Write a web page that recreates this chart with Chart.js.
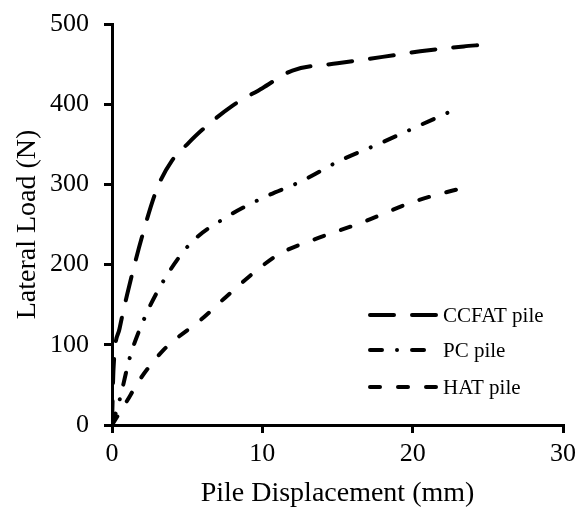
<!DOCTYPE html>
<html>
<head>
<meta charset="utf-8">
<script src="https://cdn.jsdelivr.net/npm/chart.js@4.4.1/dist/chart.umd.min.js"></script>
<style>
  html, body { margin: 0; padding: 0; background: #fff; }
  #wrap { width: 585px; height: 508px; position: relative; }
</style>
</head>
<body>
<div id="wrap"><canvas id="pileChart"></canvas></div>
<script>
'use strict';

/* ── DATA ──────────────────────────────────────────────────── */
const seriesNames = ['CCFAT pile', 'PC pile', 'HAT pile'];

const ccfatX = [0, 0.1, 0.5, 1, 2, 3, 4, 5, 6, 8, 10, 12, 15, 18, 20.5, 23.4, 24.6];
const ccfatY = [0, 70, 120, 162, 235, 295, 330, 350, 368, 398, 420, 442, 451, 459, 466, 472, 474];

const pcX = [0, 0.5, 1.2, 2.2, 3.5, 5.2, 7.5, 10, 12.6, 15.2, 17.8, 20.4, 23];
const pcY = [0, 31, 85, 135, 182, 226, 258, 283, 304, 330, 351, 373, 395];

const hatX = [0, 0.9, 1.9, 3.4, 4.3, 5.9, 7.6, 9.9, 11.2, 13.4, 16.7, 20, 24];
const hatY = [0, 27, 58, 93, 108, 131, 160, 197, 214, 231, 253, 278, 299];

const xTicks = [0, 10, 20, 30];
const yTicks = [0, 100, 200, 300, 400, 500];

const FONT = "'Liberation Serif', 'Times New Roman', serif";

const toPoints = (xs, ys) => xs.map((x, i) => ({ x, y: ys[i] }));

/* ── INSET LEGEND (lower right, inside plot) ──────────────── */
const insetLegend = {
  id: 'insetLegend',
  afterDraw(chart) {
    const ctx = chart.ctx;
    const x0 = 370, x1 = 437, textX = 443;
    const rows = [315, 350, 387];
    chart.data.datasets.forEach((ds, i) => {
      const y = rows[i];
      ctx.save();
      ctx.strokeStyle = '#000';
      ctx.lineWidth = ds.borderWidth;
      ctx.lineCap = ds.borderCapStyle;
      ctx.setLineDash(ds.borderDash);
      ctx.beginPath();
      ctx.moveTo(x0, y);
      ctx.lineTo(x1, y);
      ctx.stroke();
      ctx.setLineDash([]);
      ctx.fillStyle = '#000';
      ctx.font = `21px ${FONT}`;
      ctx.textBaseline = 'middle';
      ctx.fillText(ds.label, textX, y + 1);
      ctx.restore();
    });
  }
};

const lineStyle = (dash) => ({
  borderColor: '#000',
  backgroundColor: '#000',
  borderWidth: 4,
  borderDash: dash,
  borderCapStyle: 'round',
  pointRadius: 0,
  fill: false,
  tension: 0.3,
  cubicInterpolationMode: 'monotone',
});

new Chart(document.getElementById('pileChart'), {
  type: 'line',
  data: {
    datasets: [
      { label: seriesNames[0], data: toPoints(ccfatX, ccfatY), ...lineStyle([24, 18]) },
      { label: seriesNames[1], data: toPoints(pcX, pcY), ...lineStyle([12, 15, 0.01, 15]) },
      { label: seriesNames[2], data: toPoints(hatX, hatY), ...lineStyle([10, 18]) },
    ]
  },
  options: {
    responsive: true,
    maintainAspectRatio: false,
    animation: false,
    layout: { padding: { left: 0, right: 22, top: 24, bottom: 0 } },
    plugins: {
      legend: { display: false },
      tooltip: { enabled: false },
    },
    scales: {
      x: {
        type: 'linear',
        min: 0, max: 30,
        afterBuildTicks: s => { s.ticks = xTicks.map(v => ({ value: v })); },
        afterFit: s => { s.height = 83; },
        border: { display: true, color: '#000', width: 3 },
        grid: { drawOnChartArea: false, drawTicks: true, tickLength: 8, color: '#000', lineWidth: 3 },
        ticks: { color: '#000', padding: 6, font: { family: FONT, size: 26 } },
        title: {
          display: true, text: 'Pile Displacement (mm)', color: '#000',
          font: { family: FONT, size: 28 }, padding: { top: 0, bottom: -2 }
        }
      },
      y: {
        min: 0, max: 500,
        afterBuildTicks: s => { s.ticks = yTicks.map(v => ({ value: v })); },
        afterFit: s => { s.width = 112; s.paddingTop = 0; s.paddingBottom = 0; },
        border: { display: true, color: '#000', width: 3 },
        grid: { drawOnChartArea: false, drawTicks: true, tickLength: 8, color: '#000', lineWidth: 3 },
        ticks: { color: '#000', padding: 15, font: { family: FONT, size: 26 } },
        title: {
          display: true, text: 'Lateral Load (N)', color: '#000',
          font: { family: FONT, size: 28 }, padding: { top: 11, bottom: 0 }
        }
      }
    }
  },
  plugins: [insetLegend]
});
</script>
</body>
</html>
